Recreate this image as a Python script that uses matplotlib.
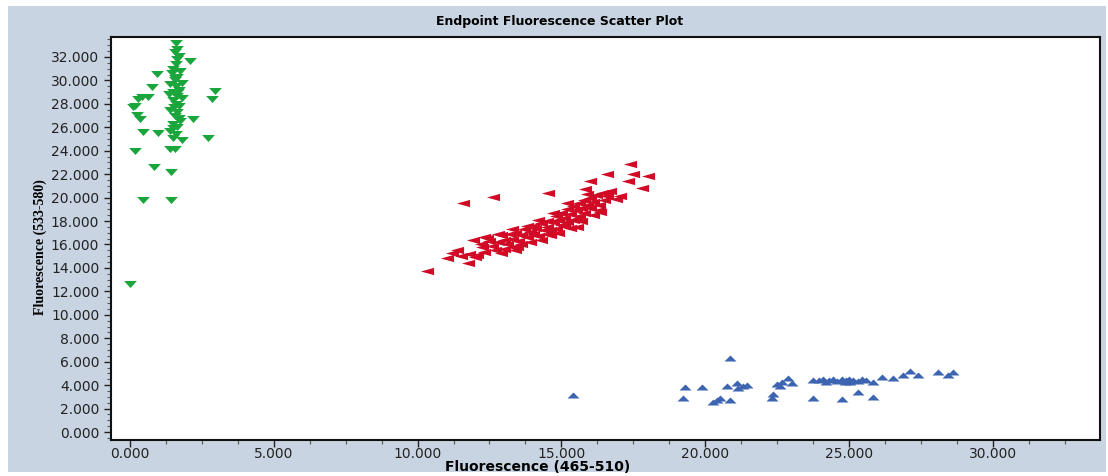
import numpy as np
import matplotlib
matplotlib.use('Agg')
import matplotlib.pyplot as plt
from matplotlib.path import Path
from matplotlib.patches import Rectangle
from matplotlib.ticker import MultipleLocator, FuncFormatter

# values in thousands of fluorescence units
green_x = [1.60, 1.65, 1.55, 1.70, 2.09, 1.60, 1.50, 1.75, 0.94, 1.45, 1.65, 1.55, 1.80, 1.40,
           0.76, 1.60, 1.70, 2.96, 1.50, 1.35, 1.65, 0.42, 1.80, 2.85, 0.28, 1.50, 1.60, 0.10,
           1.70, 1.40, 0.24, 1.65, 1.55, 0.35, 2.19, 1.75, 1.50, 1.65, 0.45, 0.98, 1.40, 1.60,
           2.71, 1.80, 1.50, 0.17, 1.39, 1.55, 0.83, 1.43, 0.45, 1.43, 0.00, 0.17, 0.62,
           1.62, 1.58, 1.68, 1.52, 1.72, 1.48]
green_y = [33.18, 32.70, 32.40, 32.10, 31.65, 31.40, 31.00, 30.80, 30.54, 30.60, 30.30, 30.00,
           29.80, 29.70, 29.43, 29.50, 29.20, 29.09, 29.00, 28.80, 28.70, 28.58, 28.50, 28.40,
           28.40, 28.30, 28.00, 27.72, 27.80, 27.50, 27.04, 27.30, 27.00, 26.70, 26.70, 26.50,
           26.30, 26.00, 25.59, 25.50, 25.70, 25.40, 25.08, 24.90, 25.10, 23.97, 24.14, 24.14,
           22.60, 22.18, 19.79, 19.79, 12.62, 27.80, 28.60,
           31.80, 30.20, 29.00, 27.70, 26.80, 25.90]

red_x = [10.33, 11.58, 12.62, 14.53, 17.39, 16.58, 16.00, 18.01, 17.49, 17.32, 17.80, 17.04,
         16.34, 15.54, 15.82, 13.45, 14.50, 16.60, 16.90,
         11.02, 11.37, 11.75, 12.07, 11.93, 12.41, 12.24, 13.32, 11.50, 11.20, 11.80, 12.00,
         12.30, 12.60, 12.50,
         12.8, 12.9, 13.0, 13.1, 13.2, 13.3, 13.4, 13.5, 13.6, 13.7, 13.8, 13.9, 14.0, 14.0,
         14.1, 14.2, 14.3, 14.4, 14.5, 14.5, 14.6, 14.7, 14.8, 14.8, 14.9, 15.0, 15.0, 15.1,
         15.2, 15.2, 15.3, 15.4, 15.4, 15.5, 15.6, 15.6, 15.7, 15.8, 15.8, 15.9, 16.0, 16.0,
         16.1, 16.2, 16.3, 16.4, 16.5, 16.6, 13.0, 12.7, 13.6, 14.3, 14.9, 15.3, 15.7, 16.1,
         12.2, 12.9, 13.4, 13.9, 14.6, 15.1, 15.5, 16.3, 16.7, 15.9, 15.2, 14.7, 14.2, 13.8,
         13.3, 12.8, 12.3]
red_y = [13.73, 19.53, 20.04, 20.39, 22.86, 22.01, 21.41, 21.84, 22.01, 21.41, 20.81, 20.13,
         18.77, 17.49, 20.73, 15.78, 16.89, 20.10, 19.90,
         14.84, 15.52, 14.42, 15.10, 16.38, 16.55, 15.78, 15.78, 15.00, 15.30, 15.20, 14.90,
         15.40, 15.90, 16.30,
         16.2, 16.8, 16.4, 16.0, 16.9, 16.5, 17.0, 16.3, 16.8, 17.3, 16.6, 17.1, 17.6, 16.9,
         17.4, 16.7, 17.8, 17.2, 18.0, 17.5, 16.8, 17.9, 18.4, 17.3, 18.1, 17.7, 18.7, 18.3,
         19.0, 17.9, 18.6, 19.3, 18.1, 18.9, 19.5, 18.4, 19.1, 19.8, 18.7, 19.4, 20.0, 19.1,
         19.6, 20.2, 19.4, 20.4, 19.8, 20.3, 15.6, 15.5, 16.0, 16.4, 17.0, 17.4, 18.0, 18.5,
         16.0, 15.3, 15.5, 16.2, 17.2, 17.6, 18.2, 18.9, 20.6, 20.3, 19.5, 18.7, 18.1, 17.6,
         17.3, 16.9, 16.6]

blue_x = [20.86, 19.30, 19.89, 19.23, 20.27, 20.40, 20.51, 20.86, 20.76, 21.10, 21.45, 21.14,
          21.30, 22.32, 22.36, 22.50, 22.60, 22.67, 22.88, 23.02, 23.75, 24.76, 25.31, 25.83,
          25.83, 26.15, 26.53, 26.88, 27.12, 27.40, 28.10, 28.44, 28.62, 15.40,
          23.75, 23.95, 24.10, 24.30, 24.45, 24.60, 24.75, 24.90, 25.00, 25.15, 25.30, 25.45,
          25.60, 24.20, 24.85, 25.05]
blue_y = [6.31, 3.84, 3.84, 2.90, 2.56, 2.70, 2.90, 2.73, 3.92, 4.18, 4.01, 3.75,
          3.90, 2.90, 3.24, 4.09, 3.95, 4.27, 4.61, 4.18, 2.90, 2.81, 3.41, 2.99,
          4.27, 4.69, 4.61, 4.86, 5.20, 4.86, 5.12, 4.86, 5.12, 3.15,
          4.44, 4.40, 4.50, 4.40, 4.55, 4.35, 4.50, 4.40, 4.55, 4.45, 4.35, 4.50,
          4.40, 4.30, 4.30, 4.30]

# flat triangle markers
tri_down = Path([(-1, 0.55), (1, 0.55), (0, -0.55), (-1, 0.55)], closed=True)
tri_left = Path([(-1, 0), (1, 0.55), (1, -0.55), (-1, 0)], closed=True)
tri_up = Path([(-1, -0.5), (1, -0.5), (0, 0.5), (-1, -0.5)], closed=True)

fig = plt.figure(figsize=(11.08, 4.76), dpi=100)
fig.patch.set_facecolor('white')
fig.patches.append(Rectangle((8/1108, 4/476), 1098/1108, 466/476, transform=fig.transFigure,
                             facecolor='#c9d4e2', edgecolor='none', zorder=-1))

ax = fig.add_axes([111/1108, 1 - 440/476, 989/1108, 403/476])
ax.set_facecolor('white')

ax.scatter(np.array(green_x) * 1000, np.array(green_y) * 1000, marker=tri_down, s=85,
           color='#1aa63c', linewidths=0)
ax.scatter(np.array(red_x) * 1000, np.array(red_y) * 1000, marker=tri_left, s=90,
           color='#d10a26', linewidths=0)
ax.scatter(np.array(blue_x) * 1000, np.array(blue_y) * 1000, marker=tri_up, s=75,
           color='#3c64b0', linewidths=0)

ax.set_xlim(-660, 33730)
ax.set_ylim(-680, 33700)
ax.xaxis.set_major_locator(MultipleLocator(5000))
ax.xaxis.set_minor_locator(MultipleLocator(1250))
ax.yaxis.set_major_locator(MultipleLocator(2000))
ax.yaxis.set_minor_locator(MultipleLocator(500))
fmt = FuncFormatter(lambda v, p: f"{v/1000:.3f}")
ax.xaxis.set_major_formatter(fmt)
ax.yaxis.set_major_formatter(fmt)
ax.tick_params(which='major', direction='out', length=5, width=1, labelsize=10, colors='#222222')
ax.tick_params(axis='x', which='major', pad=0)
ax.tick_params(which='minor', direction='out', length=3, width=0.8, colors='#555555')
for s in ax.spines.values():
    s.set_color('#111111')
    s.set_linewidth(1.5)

fig.text(0.505, 1 - 22/476, 'Endpoint Fluorescence Scatter Plot', ha='center', va='center',
         fontsize=9, fontweight='bold')
fig.text(538/1108, 1 - 467/476, 'Fluorescence (465-510)', ha='center', va='center',
         fontsize=10, fontweight='bold')
fig.text(40/1108, 1 - 247/476, 'Fluorescence (533-580)', ha='center', va='center',
         rotation=90, fontsize=10, fontweight='bold', family='Liberation Serif')

fig.savefig('out.png', dpi=100)
